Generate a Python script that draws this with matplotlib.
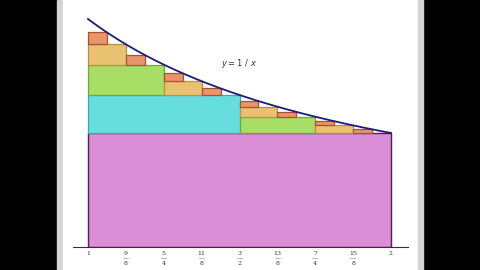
import matplotlib.pyplot as plt
import matplotlib.patches as mpatches
import numpy as np

# levels of the lower Riemann sum refinement for y = 1/x on [1, 2]
levels = [0, 1, 2, 3, 4]
fills = ["#d98ed5", "#67dede", "#a9de66", "#e8c270", "#e8956b"]
edges = ["#5a1a5a", "#40a8a8", "#70a838", "#b89040", "#b0502a"]

tick_vals = [1, 9/8, 5/4, 11/8, 3/2, 13/8, 7/4, 15/8, 2]
tick_text = ["1", "9\n—\n8", "5\n—\n4", "11\n—\n8", "3\n—\n2",
             "13\n—\n8", "7\n—\n4", "15\n—\n8", "2"]


def f(x):
    return 1.0 / x


fig = plt.figure(figsize=(4.8, 2.7), dpi=100, facecolor="black")

# white page with gray borders, behind everything
bg = fig.add_axes([0, 0, 1, 1], zorder=-10)
bg.set_xlim(0, 480)
bg.set_ylim(0, 270)
bg.axis("off")
bg.add_patch(mpatches.Rectangle((57, 0), 6, 270, color="#d4d4d4"))
bg.add_patch(mpatches.Rectangle((63, 0), 355, 270, color="white"))
bg.add_patch(mpatches.Rectangle((418, 0), 5, 270, color="#d4d4d4"))

ax = fig.add_axes([73/480, 23/270, 335/480, 237/270])
ax.set_xlim(1 - 15/303, 2 + 17/303)
ax.set_ylim(0, 237/228)
ax.patch.set_visible(False)

for lev in levels:
    if lev == 0:
        ax.bar(1, f(2), 1, 0, align="edge", color=fills[0], edgecolor=edges[0], lw=1)
        continue
    h = 1 / 2**lev
    for j in range(2**(lev - 1)):
        a = 1 + 2*j*h
        lo = f(a + 2*h)
        hi = f(a + h)
        ax.bar(a, hi - lo, h, lo, align="edge", color=fills[lev],
               edgecolor=edges[lev], lw=0.9)

xs = np.linspace(1, 2, 200)
ax.plot(xs, f(xs), color="#1c1c7c", lw=1.3)

ax.text(1.5, 0.805, "$y = 1\\ /\\ x$", fontsize=6, family="serif", ha="center",
        va="center", color="#333333")

for s in ["top", "right", "left"]:
    ax.spines[s].set_visible(False)
ax.spines["bottom"].set_color("#333333")
ax.spines["bottom"].set_linewidth(0.8)
ax.set_yticks([])
ax.set_xticks(tick_vals)
ax.set_xticklabels(tick_text, fontsize=4.5, linespacing=1.0, color="#333333",
                   family="serif")
ax.tick_params(axis="x", length=0, pad=3, colors="#333333")

fig.savefig("out.png", dpi=100, facecolor="black")
